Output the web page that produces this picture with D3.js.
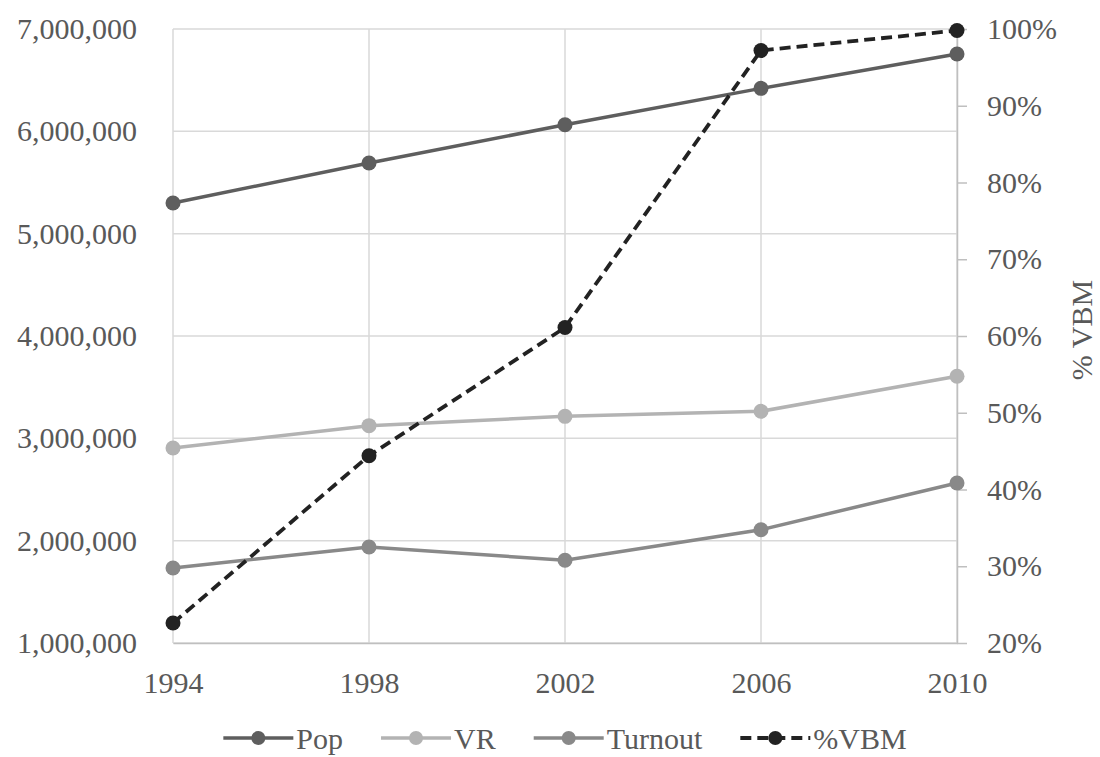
<!DOCTYPE html>
<html>
<head>
<meta charset="utf-8">
<script src="https://cdn.jsdelivr.net/npm/d3@7"></script>
<style>
  body { margin: 0; background: #fff; }
  text { font-family: "Liberation Serif", "Times New Roman", serif; }
</style>
</head>
<body>
<script>
/* ---------------------------- */
/* DATA                         */
/* ---------------------------- */

const years = [1994, 1998, 2002, 2006, 2010];
const popValues = [5300000, 5690000, 6065000, 6420000, 6756000];
const vrValues = [2906000, 3124000, 3215000, 3264000, 3606000];
const turnoutValues = [1733000, 1938000, 1808000, 2107000, 2564000];
const vbmValues = [22.6, 44.4, 61.1, 97.2, 99.8]; // percent
const leftTicks = [1000000, 2000000, 3000000, 4000000, 5000000, 6000000, 7000000];
const rightTicks = [20, 30, 40, 50, 60, 70, 80, 90, 100];
const seriesNames = ["Pop", "VR", "Turnout", "%VBM"];

/* ---------------------------- */
/* CANVAS                       */
/* ---------------------------- */

const w = 1100;
const h = 757;
let plot = {left: 173, right: 957, top: 29, bottom: 643};
const textColor = "#595959";
const fontSize = "30px";

let svg = d3.select("body")
    .append("svg")
        .attr("width", w)
        .attr("height", h);

// Scales
let x = d3.scaleLinear().domain([1994, 2010]).range([plot.left, plot.right]);
let yLeft = d3.scaleLinear().domain([1000000, 7000000]).range([plot.bottom, plot.top]);
let yRight = d3.scaleLinear().domain([20, 100]).range([plot.bottom, plot.top]);

// Gridlines
svg.append("g")
    .selectAll("line")
    .data(leftTicks)
    .enter()
    .append("line")
        .attr("x1", plot.left).attr("x2", plot.right)
        .attr("y1", d => yLeft(d)).attr("y2", d => yLeft(d))
        .attr("stroke", "#d9d9d9")
        .attr("stroke-width", 1.5);
svg.append("g")
    .selectAll("line")
    .data(years)
    .enter()
    .append("line")
        .attr("x1", d => x(d)).attr("x2", d => x(d))
        .attr("y1", plot.top).attr("y2", plot.bottom)
        .attr("stroke", "#d9d9d9")
        .attr("stroke-width", 1.5);

// Axes
let styleAxis = g => {
    g.selectAll("text")
        .attr("fill", textColor)
        .style("font-size", fontSize)
        .style("font-family", "'Liberation Serif', 'Times New Roman', serif");
};

svg.append("g")
    .attr("transform", "translate(" + plot.left + ",0)")
    .call(d3.axisLeft(yLeft).tickValues(leftTicks).tickSize(0).tickPadding(36).tickFormat(d3.format(",")))
    .call(g => g.select(".domain").remove())
    .call(styleAxis);

svg.append("g")
    .attr("transform", "translate(0," + plot.bottom + ")")
    .call(d3.axisBottom(x).tickValues(years).tickSize(0).tickPadding(29).tickFormat(d3.format("d")))
    .call(g => g.select(".domain").attr("stroke", "#bfbfbf").attr("stroke-width", 1.5))
    .call(styleAxis);

svg.append("g")
    .attr("transform", "translate(" + plot.right + ",0)")
    .call(d3.axisRight(yRight).tickValues(rightTicks).tickSize(10).tickSizeOuter(0).tickPadding(20).tickFormat(d => d + "%"))
    .call(g => g.select(".domain").attr("stroke", "#bfbfbf").attr("stroke-width", 1.5))
    .call(g => g.selectAll(".tick line").attr("stroke", "#bfbfbf").attr("stroke-width", 1.5))
    .call(styleAxis);

// Right axis title
svg.append("text")
    .attr("transform", "translate(1092,330) rotate(-90)")
    .attr("text-anchor", "middle")
    .attr("fill", textColor)
    .style("font-size", fontSize)
    .text("% VBM");

/* ---------------------------- */
/* SERIES                       */
/* ---------------------------- */

let series = [
    {name: seriesNames[0], values: popValues, scale: yLeft, color: "#5e5e5e", dash: null, width: 3.5},
    {name: seriesNames[1], values: vrValues, scale: yLeft, color: "#b3b3b3", dash: null, width: 3.5},
    {name: seriesNames[2], values: turnoutValues, scale: yLeft, color: "#898989", dash: null, width: 3.5},
    {name: seriesNames[3], values: vbmValues, scale: yRight, color: "#222222", dash: "11,6", width: 3.8}
];

series.forEach(s => {
    let pts = years.map((yr, i) => [yr, s.values[i]]);
    let line = d3.line().x(d => x(d[0])).y(d => s.scale(d[1]));
    svg.append("path")
        .datum(pts)
        .attr("d", line)
        .attr("fill", "none")
        .attr("stroke", s.color)
        .attr("stroke-width", s.width)
        .attr("stroke-dasharray", s.dash);
    svg.append("g")
        .selectAll("circle")
        .data(pts)
        .enter()
        .append("circle")
            .attr("cx", d => x(d[0]))
            .attr("cy", d => s.scale(d[1]))
            .attr("r", 7.5)
            .attr("fill", s.color);
});

/* ---------------------------- */
/* LEGEND                       */
/* ---------------------------- */

const legendY = 738;
const swatch = 70;
let legend = svg.append("g");
let items = series.map(s => {
    let g = legend.append("g");
    g.append("line")
        .attr("x1", 0).attr("x2", swatch)
        .attr("y1", legendY).attr("y2", legendY)
        .attr("stroke", s.color)
        .attr("stroke-width", s.width)
        .attr("stroke-dasharray", s.dash);
    g.append("circle")
        .attr("cx", swatch / 2).attr("cy", legendY)
        .attr("r", 7)
        .attr("fill", s.color);
    let t = g.append("text")
        .attr("x", swatch + 3)
        .attr("y", legendY + 11)
        .attr("fill", textColor)
        .style("font-size", fontSize)
        .text(s.name);
    return {g: g, width: swatch + 3 + t.node().getComputedTextLength()};
});

// Center the legend under the plot
const gap = 38;
let total = d3.sum(items, d => d.width) + gap * (items.length - 1);
let cursor = (plot.left + plot.right) / 2 - total / 2;
items.forEach(it => {
    it.g.attr("transform", "translate(" + cursor + ",0)");
    cursor += it.width + gap;
});
</script>
</body>
</html>
